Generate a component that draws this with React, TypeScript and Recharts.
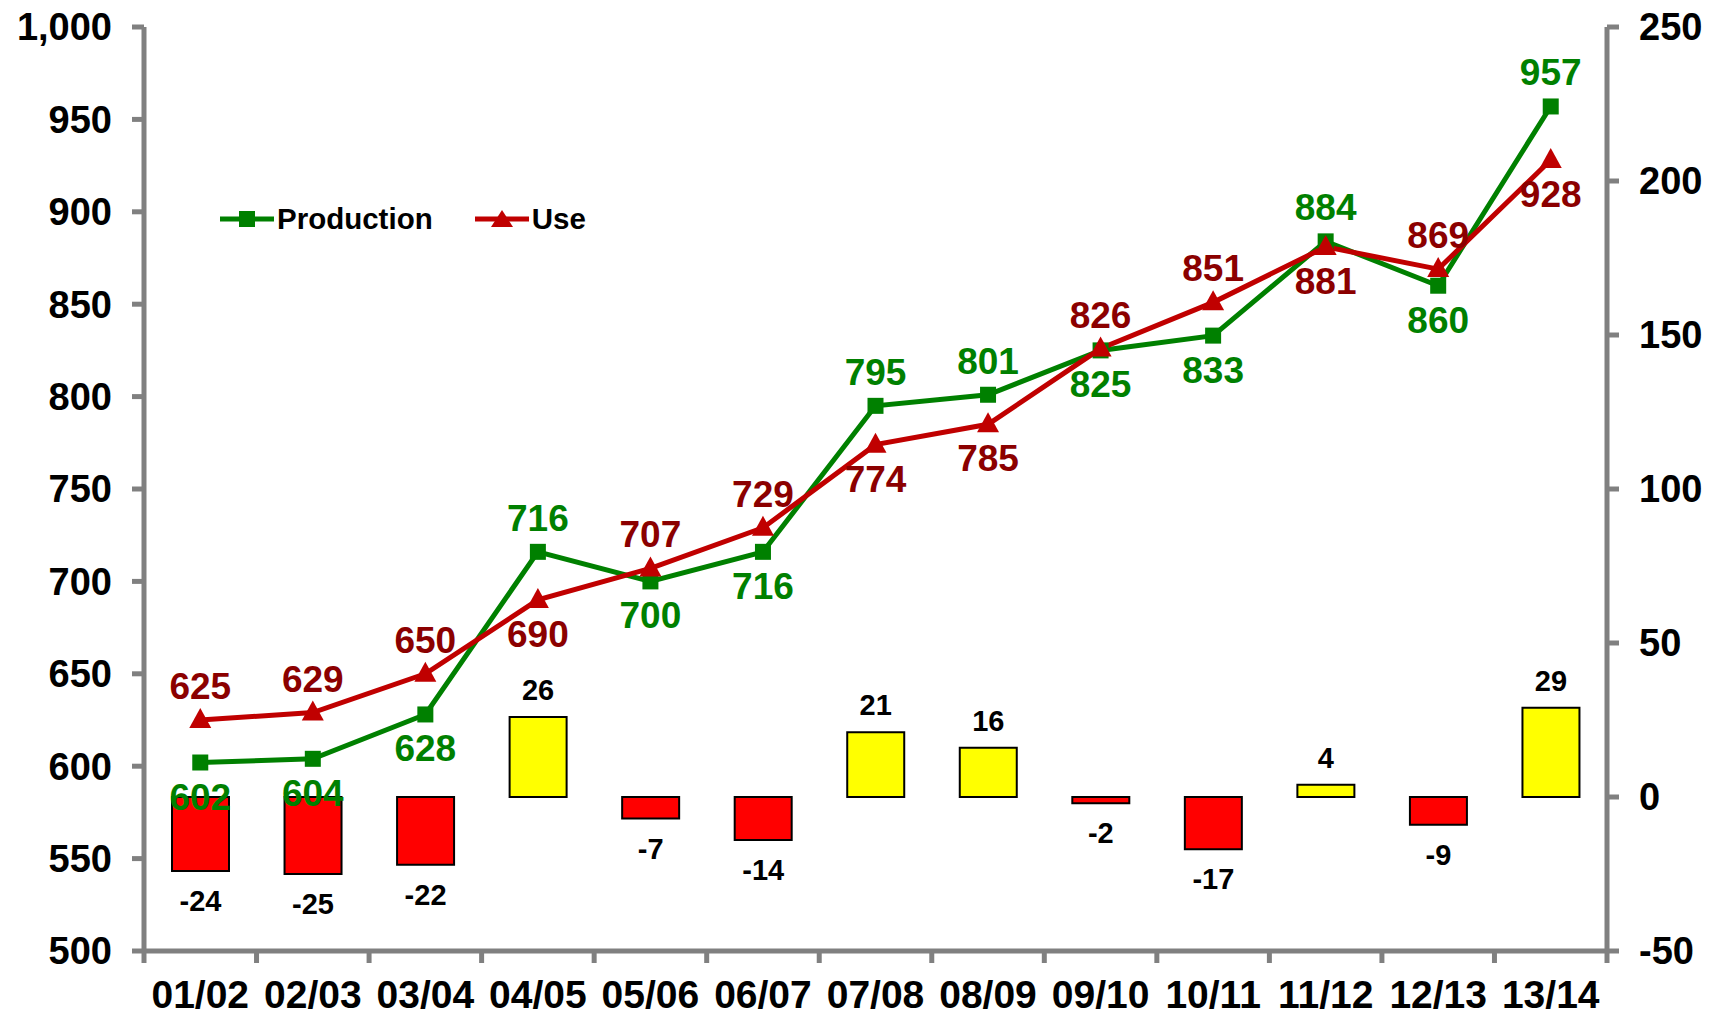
import { ComposedChart, Bar, Line, XAxis, YAxis, LabelList, Legend, Cell } from "recharts"

const seasons = ["01/02", "02/03", "03/04", "04/05", "05/06", "06/07", "07/08", "08/09", "09/10", "10/11", "11/12", "12/13", "13/14"]
const production = [602, 604, 628, 716, 700, 716, 795, 801, 825, 833, 884, 860, 957]
const consumption = [625, 629, 650, 690, 707, 729, 774, 785, 826, 851, 881, 869, 928]
const balance = [-24, -25, -22, 26, -7, -14, 21, 16, -2, -17, 4, -9, 29]

const leftTicks = [500, 550, 600, 650, 700, 750, 800, 850, 900, 950, 1000]
const rightTicks = [-50, 0, 50, 100, 150, 200, 250]

// which side of the point each data label sits on
const prodLabelSide = ["below", "below", "below", "above", "below", "below", "above", "above", "below", "below", "above", "below", "above"]
const useLabelSide = ["above", "above", "above", "below", "above", "above", "below", "below", "above", "above", "below", "above", "below"]

const data = seasons.map((season, i) => ({
  season,
  production: production[i],
  use: consumption[i],
  balance: balance[i],
}))

const FONT = "'Liberation Sans', Arial, Helvetica, sans-serif"
const AXIS_GRAY = "#808080"
const GREEN = "#008000"
const RED_LINE = "#C00000"
const RED_LABEL = "#8B0000"

const CHART_W = 1717
const CHART_H = 1016
const LEFT_W = 144
const RIGHT_W = 110
const HALF_BAND = (CHART_W - LEFT_W - RIGHT_W) / seasons.length / 2

const SquareDot = (props: any) => {
  const { cx, cy, index } = props
  if (cx == null || cy == null) return null
  return <rect key={`sq-${index}`} x={cx - 8} y={cy - 8} width={16} height={16} fill={GREEN} />
}

const TriangleDot = (props: any) => {
  const { cx, cy, index } = props
  if (cx == null || cy == null) return null
  return (
    <polygon
      key={`tri-${index}`}
      points={`${cx},${cy - 12} ${cx + 11},${cy + 8} ${cx - 11},${cy + 8}`}
      fill={RED_LINE}
    />
  )
}

const pointLabel = (sides: string[], color: string) => (props: any) => {
  const vb = props.viewBox || props
  const x = (vb.x ?? props.x) + (vb.width || 0) / 2
  const y = vb.y ?? props.y
  const above = sides[props.index] === "above"
  return (
    <text
      x={x}
      y={above ? y - 21 : y + 47}
      textAnchor="middle"
      fill={color}
      fontSize={37}
      fontWeight={700}
      fontFamily={FONT}
    >
      {props.value}
    </text>
  )
}

const barLabel = (props: any) => {
  const vb = props.viewBox || props
  const x = vb.x + vb.width / 2
  const top = Math.min(vb.y, vb.y + vb.height)
  const bottom = Math.max(vb.y, vb.y + vb.height)
  const positive = Number(props.value) >= 0
  return (
    <text
      x={x}
      y={positive ? top - 17 : bottom + 40}
      textAnchor="middle"
      fill="#000"
      fontSize={29}
      fontWeight={700}
      fontFamily={FONT}
    >
      {props.value}
    </text>
  )
}

const SeasonTick = (props: any) => {
  const { x, y, payload, index, visibleTicksCount } = props
  return (
    <g>
      <line x1={x - HALF_BAND} x2={x - HALF_BAND} y1={y - 12} y2={y} stroke={AXIS_GRAY} strokeWidth={5} />
      {index === visibleTicksCount - 1 && (
        <line x1={x + HALF_BAND} x2={x + HALF_BAND} y1={y - 12} y2={y} stroke={AXIS_GRAY} strokeWidth={5} />
      )}
      <text x={x} y={y + 45} textAnchor="middle" fill="#000" fontSize={39} fontWeight={700} fontFamily={FONT}>
        {payload.value}
      </text>
    </g>
  )
}

const LegendContent = () => (
  <div style={{ display: "flex", alignItems: "center", fontFamily: FONT, fontWeight: 700, fontSize: 29.5, color: "#000", whiteSpace: "nowrap" }}>
    <svg width={54} height={20}>
      <line x1={0} y1={10} x2={54} y2={10} stroke={GREEN} strokeWidth={5} />
      <rect x={19} y={2} width={16} height={16} fill={GREEN} />
    </svg>
    <span style={{ marginLeft: 3 }}>Production</span>
    <svg width={54} height={20} style={{ marginLeft: 42 }}>
      <line x1={0} y1={10} x2={54} y2={10} stroke={RED_LINE} strokeWidth={5} />
      <polygon points="27,1 38,18 16,18" fill={RED_LINE} />
    </svg>
    <span style={{ marginLeft: 3 }}>Use</span>
  </div>
)

const tickStyle = { fill: "#000", fontSize: 38, fontWeight: 700, fontFamily: FONT }

export default function App() {
  return (
    <div style={{ width: CHART_W, height: CHART_H, background: "#fff", position: "absolute", left: 0, top: 0 }}>
      <style>{"body{margin:0;background:#fff}"}</style>
      <ComposedChart
        width={CHART_W}
        height={CHART_H}
        data={data}
        margin={{ top: 27, right: 0, bottom: 0, left: 0 }}
      >
        <XAxis
          dataKey="season"
          height={65}
          tickLine={false}
          tickSize={12}
          tickMargin={0}
          interval={0}
          axisLine={{ stroke: AXIS_GRAY, strokeWidth: 5 }}
          tick={<SeasonTick />}
        />
        <YAxis
          yAxisId="left"
          width={LEFT_W}
          domain={[500, 1000]}
          ticks={leftTicks}
          interval={0}
          tickSize={12}
          tickMargin={20}
          tickFormatter={(v: number) => v.toLocaleString("en-US")}
          axisLine={{ stroke: AXIS_GRAY, strokeWidth: 5 }}
          tickLine={{ stroke: AXIS_GRAY, strokeWidth: 5 }}
          tick={tickStyle}
        />
        <YAxis
          yAxisId="right"
          orientation="right"
          width={RIGHT_W}
          domain={[-50, 250]}
          ticks={rightTicks}
          interval={0}
          tickSize={12}
          tickMargin={20}
          axisLine={{ stroke: AXIS_GRAY, strokeWidth: 5 }}
          tickLine={{ stroke: AXIS_GRAY, strokeWidth: 5 }}
          tick={tickStyle}
        />
        <Legend
          layout="horizontal"
          verticalAlign="middle"
          align="center"
          wrapperStyle={{ left: 220, top: 202, width: "auto" }}
          content={<LegendContent />}
        />
        <Bar
          yAxisId="right"
          dataKey="balance"
          barSize={57}
          stroke="#000"
          strokeWidth={2}
          legendType="none"
          isAnimationActive={false}
        >
          {data.map((d, i) => (
            <Cell key={i} fill={d.balance >= 0 ? "#FFFF00" : "#FF0000"} />
          ))}
          <LabelList dataKey="balance" content={barLabel} />
        </Bar>
        <Line
          yAxisId="left"
          dataKey="production"
          name="Production"
          stroke={GREEN}
          strokeWidth={5}
          dot={<SquareDot />}
          activeDot={false}
          isAnimationActive={false}
        >
          <LabelList dataKey="production" content={pointLabel(prodLabelSide, GREEN)} />
        </Line>
        <Line
          yAxisId="left"
          dataKey="use"
          name="Use"
          stroke={RED_LINE}
          strokeWidth={5}
          dot={<TriangleDot />}
          activeDot={false}
          isAnimationActive={false}
        >
          <LabelList dataKey="use" content={pointLabel(useLabelSide, RED_LABEL)} />
        </Line>
      </ComposedChart>
    </div>
  )
}
